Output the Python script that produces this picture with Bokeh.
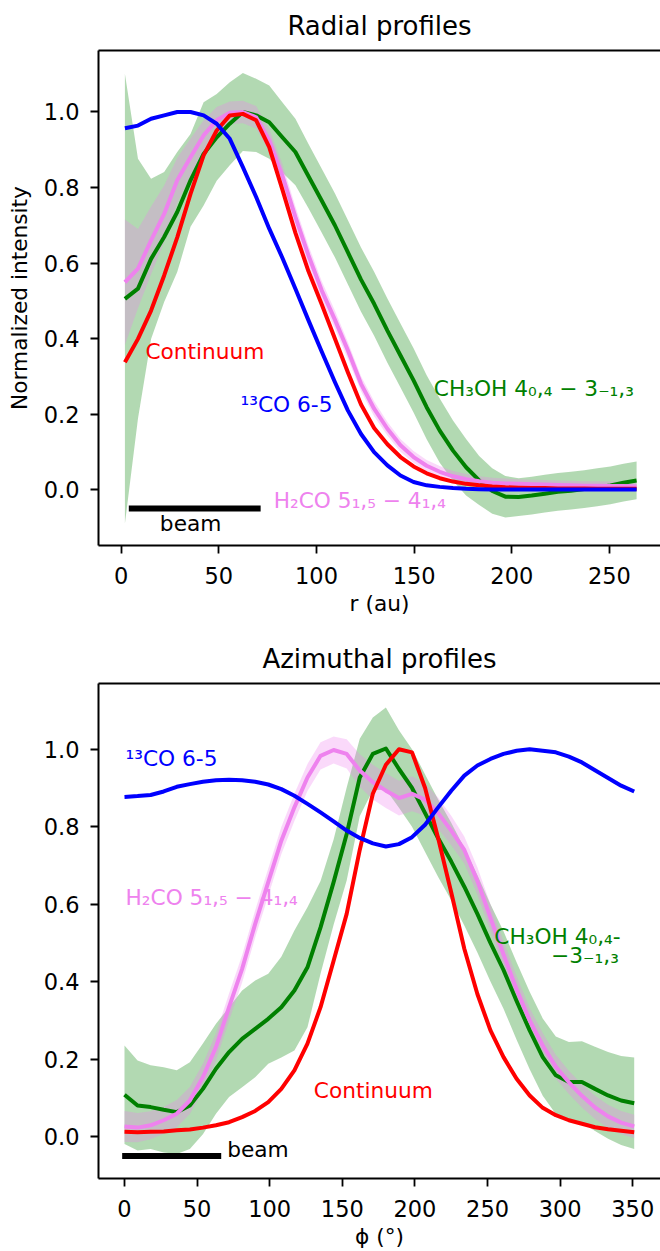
from bokeh.plotting import figure
from bokeh.layouts import column
from bokeh.models import Range1d, FixedTicker, NumeralTickFormatter, LinearAxis, Label
from bokeh.embed import file_html
from bokeh.resources import INLINE

# ---------------- Radial profiles data ----------------
r_au = [1.9, 8.6, 15.3, 22.0, 28.7, 35.5, 42.2, 48.9, 55.6, 62.3,
        69.1, 75.8, 82.5, 89.2, 95.9, 102.7, 109.4, 116.1, 122.8, 129.5,
        136.3, 143.0, 149.7, 156.4, 163.1, 169.9, 176.6, 183.3, 190.0, 196.7,
        203.5, 210.2, 216.9, 223.6, 230.3, 237.1, 243.8, 250.5, 257.2, 263.9]

co13_rad = [0.957, 0.964, 0.982, 0.991, 1.0, 1.0, 0.991, 0.969, 0.929, 0.854,
            0.775, 0.691, 0.614, 0.532, 0.448, 0.365, 0.285, 0.209, 0.147, 0.099,
            0.064, 0.037, 0.020, 0.011, 0.007, 0.004, 0.002, 0.001, 0.0, 0.0,
            0.0, 0.0, 0.0, 0.0, 0.0, 0.0, 0.0, 0.0, 0.0, 0.0]

cont_rad = [0.337, 0.399, 0.474, 0.567, 0.668, 0.783, 0.885, 0.951, 0.991, 0.995,
            0.978, 0.907, 0.795, 0.680, 0.578, 0.490, 0.400, 0.310, 0.225, 0.163,
            0.120, 0.086, 0.061, 0.043, 0.030, 0.021, 0.015, 0.011, 0.008, 0.006,
            0.005, 0.004, 0.004, 0.003, 0.003, 0.003, 0.002, 0.002, 0.002, 0.002]

h2co_rad = [0.549, 0.585, 0.660, 0.730, 0.819, 0.880, 0.938, 0.978, 0.998, 1.0,
            0.986, 0.925, 0.832, 0.722, 0.620, 0.527, 0.450, 0.368, 0.280, 0.214,
            0.161, 0.117, 0.086, 0.063, 0.047, 0.035, 0.027, 0.022, 0.018, 0.016,
            0.015, 0.014, 0.013, 0.012, 0.011, 0.010, 0.010, 0.009, 0.009, 0.008]
h2co_rad_err = [0.166, 0.105, 0.090, 0.075, 0.060, 0.050, 0.040, 0.035, 0.030, 0.030,
                0.030, 0.030, 0.030, 0.028, 0.026, 0.025, 0.024, 0.022, 0.020, 0.020,
                0.018, 0.017, 0.016, 0.015, 0.015, 0.014, 0.014, 0.013, 0.013, 0.013,
                0.012, 0.012, 0.012, 0.012, 0.012, 0.012, 0.012, 0.012, 0.012, 0.012]

ch3oh_rad = [0.505, 0.532, 0.611, 0.669, 0.735, 0.819, 0.889, 0.933, 0.969, 1.0,
             0.991, 0.973, 0.933, 0.894, 0.830, 0.765, 0.700, 0.628, 0.556, 0.492,
             0.421, 0.355, 0.289, 0.218, 0.156, 0.103, 0.059, 0.024, -0.004, -0.019,
             -0.020, -0.016, -0.011, -0.006, -0.003, 0.001, 0.006, 0.011, 0.018, 0.024]
ch3oh_rad_err = [0.596, 0.344, 0.212, 0.172, 0.159, 0.123, 0.137, 0.115, 0.110, 0.103,
                 0.097, 0.097, 0.093, 0.088, 0.085, 0.085, 0.085, 0.085, 0.085, 0.085,
                 0.085, 0.085, 0.085, 0.085, 0.085, 0.080, 0.075, 0.065, 0.060, 0.055,
                 0.050, 0.050, 0.050, 0.050, 0.050, 0.050, 0.050, 0.050, 0.050, 0.050]

beam_rad_x = [3.9, 71.4]
beam_rad_y = [-0.05, -0.05]

# ---------------- Azimuthal profiles data ----------------
phi_deg = [0, 9, 18, 27, 36, 45, 54, 63, 72, 81,
           90, 99, 108, 117, 126, 135, 144, 153, 162, 171,
           180, 189, 198, 207, 216, 225, 234, 243, 252, 261,
           270, 279, 288, 297, 306, 315, 324, 333, 342, 351]

co13_az = [0.877, 0.879, 0.882, 0.891, 0.903, 0.910, 0.916, 0.920, 0.921, 0.920,
           0.916, 0.909, 0.897, 0.880, 0.859, 0.837, 0.814, 0.790, 0.771, 0.757,
           0.749, 0.755, 0.773, 0.805, 0.850, 0.893, 0.932, 0.958, 0.975, 0.988,
           0.996, 1.0, 0.996, 0.992, 0.981, 0.966, 0.946, 0.926, 0.906, 0.891]

cont_az = [0.012, 0.011, 0.012, 0.013, 0.016, 0.018, 0.023, 0.029, 0.037, 0.050,
           0.066, 0.089, 0.123, 0.171, 0.240, 0.334, 0.454, 0.575, 0.740, 0.885,
           0.960, 1.0, 0.992, 0.900, 0.770, 0.630, 0.485, 0.368, 0.274, 0.205,
           0.149, 0.106, 0.074, 0.055, 0.042, 0.033, 0.024, 0.019, 0.015, 0.011]

h2co_az = [0.026, 0.023, 0.029, 0.042, 0.059, 0.093, 0.153, 0.231, 0.334, 0.433,
           0.549, 0.657, 0.764, 0.850, 0.927, 0.983, 0.998, 0.988, 0.945, 0.915,
           0.893, 0.874, 0.885, 0.870, 0.835, 0.790, 0.740, 0.660, 0.565, 0.470,
           0.380, 0.300, 0.235, 0.180, 0.140, 0.105, 0.075, 0.052, 0.036, 0.026]
h2co_az_err = [0.040, 0.038, 0.036, 0.035, 0.035, 0.035, 0.035, 0.035, 0.035, 0.035,
               0.035, 0.035, 0.035, 0.035, 0.035, 0.035, 0.035, 0.038, 0.042, 0.045,
               0.045, 0.045, 0.045, 0.042, 0.040, 0.038, 0.035, 0.035, 0.035, 0.035,
               0.033, 0.032, 0.032, 0.031, 0.030, 0.030, 0.030, 0.030, 0.030, 0.030]

ch3oh_az = [0.108, 0.080, 0.076, 0.069, 0.063, 0.080, 0.123, 0.175, 0.218, 0.252,
            0.278, 0.304, 0.334, 0.377, 0.437, 0.540, 0.657, 0.781, 0.927, 0.988,
            1.002, 0.949, 0.900, 0.835, 0.770, 0.710, 0.645, 0.575, 0.500, 0.430,
            0.350, 0.274, 0.205, 0.158, 0.141, 0.141, 0.123, 0.106, 0.093, 0.086]
ch3oh_az_err = [0.127, 0.116, 0.108, 0.110, 0.108, 0.112, 0.117, 0.116, 0.116, 0.125,
                0.125, 0.116, 0.130, 0.155, 0.155, 0.120, 0.110, 0.120, 0.100, 0.094,
                0.106, 0.100, 0.100, 0.100, 0.100, 0.100, 0.100, 0.100, 0.100, 0.100,
                0.100, 0.100, 0.100, 0.100, 0.103, 0.105, 0.109, 0.112, 0.115, 0.118]

beam_az_x = [-1.6, 66.6]
beam_az_y = [-0.05, -0.05]

y_ticks = [0.0, 0.2, 0.4, 0.6, 0.8, 1.0]
r_ticks = [0, 50, 100, 150, 200, 250]
phi_ticks = [0, 50, 100, 150, 200, 250, 300, 350]

FONT = "DejaVu Sans"
FS = "21.7px"
TICK_FS = "22.5px"
LW = 4


def band(vals, errs, sign):
    return [v + sign * e for v, e in zip(vals, errs)]


def make_fig(height, top, bottom, xr, yr, xticks, xlabel, ylabel, title):
    p = figure(width=660, height=height, output_backend="svg", toolbar_location=None,
               x_range=Range1d(*xr), y_range=Range1d(*yr),
               min_border_left=98, min_border_right=0,
               min_border_top=top, min_border_bottom=bottom)
    p.outline_line_color = None
    p.grid.visible = False
    p.background_fill_color = "white"
    p.border_fill_color = "white"
    for ax in (p.xaxis[0], p.yaxis[0]):
        ax.axis_line_width = 2
        ax.axis_line_color = "black"
        ax.major_tick_line_width = 1.8
        ax.major_tick_line_color = "black"
        ax.major_tick_out = 8
        ax.major_tick_in = 0
        ax.minor_tick_out = 0
        ax.minor_tick_in = 0
        ax.major_label_text_font = FONT
        ax.major_label_text_font_size = TICK_FS
        ax.major_label_text_color = "black"
        ax.axis_label_text_font = FONT
        ax.axis_label_text_font_size = FS
        ax.axis_label_text_font_style = "normal"
        ax.axis_label_text_color = "black"
    p.xaxis.ticker = FixedTicker(ticks=xticks)
    p.yaxis.ticker = FixedTicker(ticks=y_ticks)
    p.yaxis.formatter = NumeralTickFormatter(format="0.0")
    p.xaxis.major_label_standoff = 13
    p.yaxis.major_label_standoff = 11
    p.xaxis.axis_label = xlabel
    p.xaxis.axis_label_standoff = 4
    if ylabel:
        p.yaxis.axis_label = ylabel
        p.yaxis.axis_label_standoff = 9
    top_ax = LinearAxis(ticker=FixedTicker(ticks=[]), major_tick_out=0, major_tick_in=0,
                        minor_tick_out=0, minor_tick_in=0, major_label_standoff=0,
                        axis_line_width=2, axis_line_color="black",
                        axis_label=title, axis_label_standoff=10,
                        axis_label_text_font=FONT, axis_label_text_font_size="26px",
                        axis_label_text_font_style="normal", axis_label_text_color="black")
    p.add_layout(top_ax, "above")
    return p


def add_label(p, x, y, text, color, align="left"):
    p.add_layout(Label(x=x, y=y, text=text, text_color=color, text_font=FONT,
                       text_font_size=FS, text_align=align, text_baseline="alphabetic"))


# ---------------- Top: radial ----------------
p1 = make_fig(622, 50, 77, (-11.62, 276.14), (-0.1483, 1.1629), r_ticks,
              "r (au)", "Normalized intensity", "Radial profiles")
p1.varea(x=r_au, y1=band(ch3oh_rad, ch3oh_rad_err, -1), y2=band(ch3oh_rad, ch3oh_rad_err, 1),
         fill_color="green", fill_alpha=0.3)
p1.varea(x=r_au, y1=band(h2co_rad, h2co_rad_err, -1), y2=band(h2co_rad, h2co_rad_err, 1),
         fill_color="violet", fill_alpha=0.3)
p1.line(r_au, ch3oh_rad, line_color="green", line_width=LW, line_join="round")
p1.line(r_au, h2co_rad, line_color="violet", line_width=LW, line_join="round")
p1.line(r_au, cont_rad, line_color="red", line_width=LW, line_join="round")
p1.line(r_au, co13_rad, line_color="blue", line_width=LW, line_join="round")
p1.line(beam_rad_x, beam_rad_y, line_color="black", line_width=6)

add_label(p1, 12.4, 0.365, "Continuum", "red")
add_label(p1, 61.1, 0.224, "\u00b9\u00b3CO 6-5", "blue")
add_label(p1, 78.1, -0.030, "H\u2082CO 5\u2081,\u2085 \u2212 4\u2081,\u2084", "violet")
add_label(p1, 160.1, 0.268, "CH\u2083OH 4\u2080,\u2084 \u2212 3\u208b\u2081,\u2083", "green")
add_label(p1, 19.8, -0.091, "beam", "black")

# ---------------- Bottom: azimuthal ----------------
p2 = make_fig(629, 61, 73, (-17.9, 369.1), (-0.1084, 1.1698), phi_ticks,
              "\u03d5 (\u00b0)", None, "Azimuthal profiles")
p2.varea(x=phi_deg, y1=band(ch3oh_az, ch3oh_az_err, -1), y2=band(ch3oh_az, ch3oh_az_err, 1),
         fill_color="green", fill_alpha=0.3)
p2.varea(x=phi_deg, y1=band(h2co_az, h2co_az_err, -1), y2=band(h2co_az, h2co_az_err, 1),
         fill_color="violet", fill_alpha=0.3)
p2.line(phi_deg, ch3oh_az, line_color="green", line_width=LW, line_join="round")
p2.line(phi_deg, h2co_az, line_color="violet", line_width=LW, line_join="round")
p2.line(phi_deg, cont_az, line_color="red", line_width=LW, line_join="round")
p2.line(phi_deg, co13_az, line_color="blue", line_width=LW, line_join="round")
p2.line(beam_az_x, beam_az_y, line_color="black", line_width=6)

add_label(p2, 0.7, 0.975, "\u00b9\u00b3CO 6-5", "blue")
add_label(p2, 0.7, 0.618, "H\u2082CO 5\u2081,\u2085 \u2212 4\u2081,\u2084", "violet")
add_label(p2, 341.6, 0.517, "CH\u2083OH 4\u2080,\u2084-", "green", align="right")
add_label(p2, 340.4, 0.468, "\u22123\u208b\u2081,\u2083", "green", align="right")
add_label(p2, 130.4, 0.1195, "Continuum", "red")
add_label(p2, 70.7, -0.0336, "beam", "black")

layout = column(p1, p2, spacing=0)
open("out.html", "w").write(file_html(layout, INLINE))
